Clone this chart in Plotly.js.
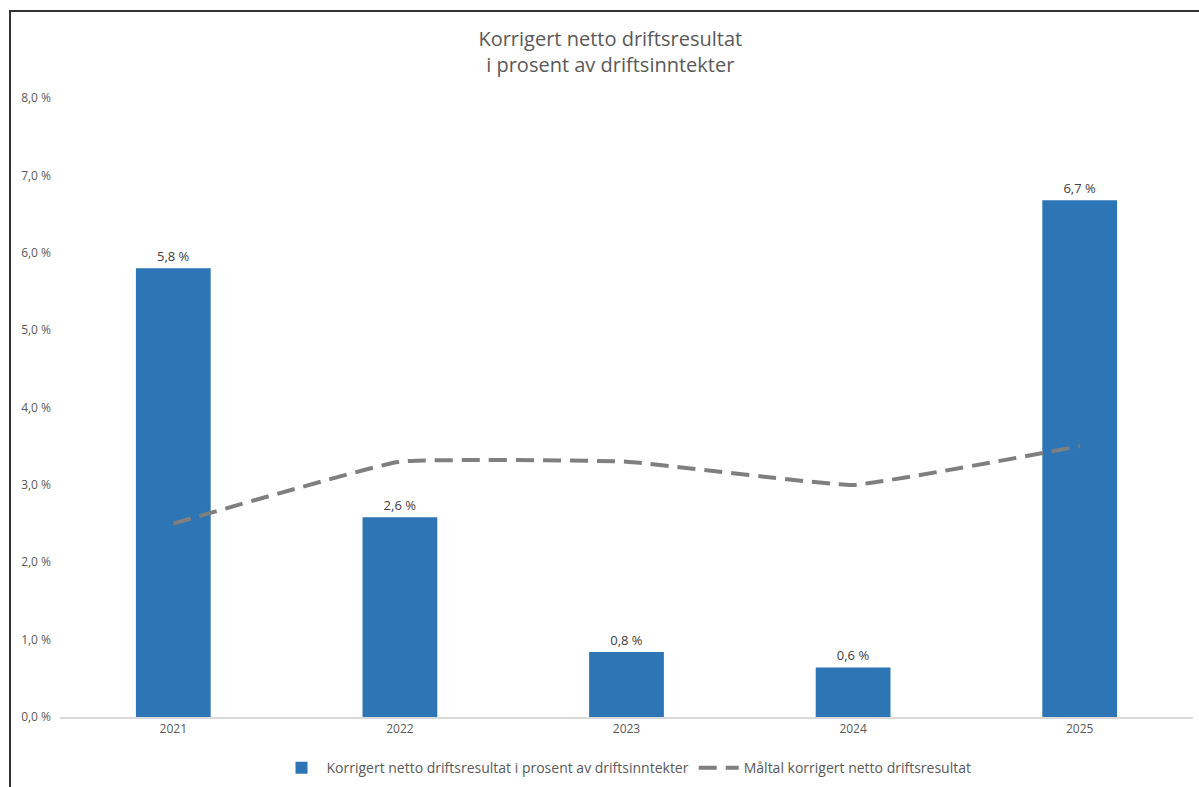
<!DOCTYPE html>
<html>
<head>
<meta charset="utf-8">
<script src="https://cdn.plot.ly/plotly-3.0.1.min.js"></script>
<style>
  html, body { margin: 0; padding: 0; background: #fff; }
  #wrap { position: relative; width: 1199px; height: 787px; }
  #chart { width: 1199px; height: 787px; }
  #frame { position: absolute; left: 9px; top: 10px; right: 0; bottom: 0;
           border-top: 2px solid #333; border-left: 2px solid #333; pointer-events: none; }
</style>
</head>
<body>
<div id="wrap">
  <div id="chart"></div>
  <div id="frame"></div>
</div>
<script>
const years = ['2021', '2022', '2023', '2024', '2025'];
const resultat = [5.8, 2.58, 0.84, 0.64, 6.68];
const resultatLabels = ['5,8 %', '2,6 %', '0,8 %', '0,6 %', '6,7 %'];
const maltal = [2.5, 3.3, 3.3, 3.0, 3.5];
const yTicks = [0, 1, 2, 3, 4, 5, 6, 7, 8];
const yTickText = ['0,0 %', '1,0 %', '2,0 %', '3,0 %', '4,0 %', '5,0 %', '6,0 %', '7,0 %', '8,0 %'];

const font = "'Open Sans', 'Noto Sans', sans-serif";

const traces = [
  {
    type: 'bar',
    name: 'Korrigert netto driftsresultat i prosent av driftsinntekter',
    x: years,
    y: resultat,
    text: resultatLabels,
    texttemplate: '%{text}',
    textposition: 'outside',
    cliponaxis: false,
    textfont: { family: font, size: 13, color: '#404040' },
    marker: { color: '#2e75b6' },
    width: 0.33,
    hoverinfo: 'skip'
  },
  {
    type: 'scatter',
    mode: 'lines',
    name: 'Måltal korrigert netto driftsresultat',
    x: years,
    y: maltal,
    line: { color: '#7f7f7f', width: 4, dash: '18px,9px', shape: 'spline', smoothing: 0.3 },
    hoverinfo: 'skip'
  }
];

const layout = {
  width: 1199,
  height: 787,
  margin: { l: 60, r: 6, t: 98, b: 70 },
  paper_bgcolor: '#ffffff',
  plot_bgcolor: '#ffffff',
  separators: ', ',
  title: {
    text: 'Korrigert netto driftsresultat<br>i prosent av driftsinntekter',
    font: { family: font, size: 20, color: '#595959' },
    x: 0.509, xanchor: 'center',
    y: 0.942, yanchor: 'top'
  },
  xaxis: {
    type: 'category',
    range: [-0.5, 4.5],
    showline: true,
    linecolor: '#d9d9d9',
    linewidth: 1.5,
    ticks: '',
    showgrid: false,
    tickfont: { family: font, size: 12, color: '#595959' }
  },
  yaxis: {
    range: [0, 8],
    tickvals: yTicks,
    ticktext: yTickText,
    showgrid: false,
    zeroline: false,
    showline: false,
    ticks: '',
    ticklabelstandoff: 8,
    tickfont: { family: font, size: 12, color: '#595959' }
  },
  showlegend: true,
  legend: {
    orientation: 'h',
    x: 0.5, xanchor: 'center',
    yref: 'container',
    y: 0.024, yanchor: 'middle',
    font: { family: font, size: 14, color: '#595959' },
    itemwidth: 40,
    traceorder: 'normal'
  },
  bargap: 0.67
};

Plotly.newPlot('chart', traces, layout, { displayModeBar: false, staticPlot: true });
</script>
</body>
</html>
